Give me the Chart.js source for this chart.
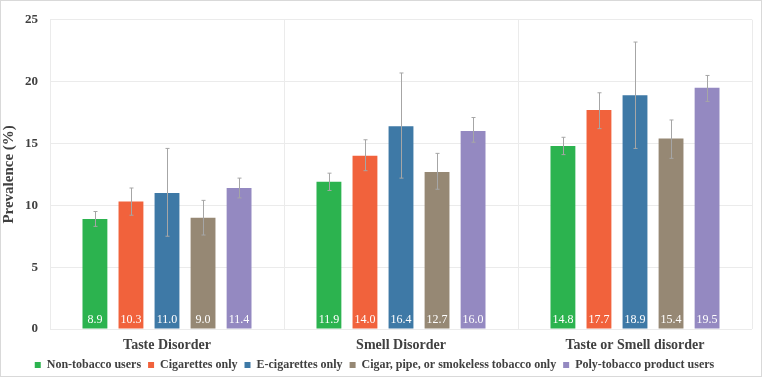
<!DOCTYPE html>
<html>
<head>
<meta charset="utf-8">
<script src="https://cdn.jsdelivr.net/npm/chart.js@4"></script>
<style>
  html, body { margin: 0; padding: 0; background: #fff; }
  #wrap { width: 762px; height: 377px; }
</style>
</head>
<body>
<div id="wrap"><canvas id="chart" width="762" height="377"></canvas></div>
<script>
// categories and groups
const categories = ["Taste Disorder", "Smell Disorder", "Taste or Smell disorder"];
const groups = ["Non-tobacco users", "Cigarettes only", "E-cigarettes only", "Cigar, pipe, or smokeless tobacco only", "Poly-tobacco product users"];
const colors = ["#2cb34f", "#f1623c", "#3e79a6", "#968874", "#9489c1"];

// prevalence values (%) per group
const nonTobacco = [8.9, 11.9, 14.8];
const cigarettes = [10.3, 14.0, 17.7];
const eCigs = [11.0, 16.4, 18.9];
const cigarPipe = [9.0, 12.7, 15.4];
const polyTobacco = [11.4, 16.0, 19.5];

// confidence intervals
const nonTobaccoLow = [8.3, 11.2, 14.1];
const nonTobaccoHigh = [9.5, 12.6, 15.5];
const cigarettesLow = [9.2, 12.8, 16.2];
const cigarettesHigh = [11.4, 15.3, 19.1];
const eCigsLow = [7.5, 12.2, 14.6];
const eCigsHigh = [14.6, 20.7, 23.2];
const cigarPipeLow = [7.6, 11.3, 13.8];
const cigarPipeHigh = [10.4, 14.2, 16.9];
const polyLow = [10.6, 15.1, 18.4];
const polyHigh = [12.2, 17.1, 20.5];

const yTicks = [0, 5, 10, 15, 20, 25];

const values = [nonTobacco, cigarettes, eCigs, cigarPipe, polyTobacco];
const lows = [nonTobaccoLow, cigarettesLow, eCigsLow, cigarPipeLow, polyLow];
const highs = [nonTobaccoHigh, cigarettesHigh, eCigsHigh, cigarPipeHigh, polyHigh];

const serif = "'Liberation Serif', 'DejaVu Serif', serif";
const textColor = "#404040";

// error bars, drawn with the y scale
const errorBars = {
  id: "errorBars",
  afterDatasetsDraw(chart) {
    const ctx = chart.ctx;
    const y = chart.scales.y;
    ctx.save();
    ctx.strokeStyle = "#a6a6a6";
    ctx.lineWidth = 1;
    chart.data.datasets.forEach((ds, i) => {
      const meta = chart.getDatasetMeta(i);
      meta.data.forEach((bar, j) => {
        const x = Math.round(bar.x) + 0.5;
        const top = y.getPixelForValue(highs[i][j]);
        const bot = y.getPixelForValue(lows[i][j]);
        ctx.beginPath();
        ctx.moveTo(x, top);
        ctx.lineTo(x, bot);
        ctx.moveTo(x - 2, top);
        ctx.lineTo(x + 2, top);
        ctx.moveTo(x - 2, bot);
        ctx.lineTo(x + 2, bot);
        ctx.stroke();
      });
    });
    ctx.restore();
  }
};

// value labels at the foot of each bar
const barLabels = {
  id: "barLabels",
  afterDatasetsDraw(chart) {
    const ctx = chart.ctx;
    const y0 = chart.scales.y.getPixelForValue(0);
    ctx.save();
    ctx.fillStyle = "#ffffff";
    ctx.font = "12px " + serif;
    ctx.textAlign = "center";
    ctx.textBaseline = "middle";
    chart.data.datasets.forEach((ds, i) => {
      chart.getDatasetMeta(i).data.forEach((bar, j) => {
        ctx.fillText(ds.data[j].toFixed(1), bar.x, y0 - 9);
      });
    });
    ctx.restore();
  }
};

// thin frame around the whole figure
const frame = {
  id: "frame",
  afterDraw(chart) {
    const ctx = chart.ctx;
    ctx.save();
    ctx.strokeStyle = "#d9d9d9";
    ctx.lineWidth = 1;
    ctx.strokeRect(0.5, 0.5, chart.width - 1, chart.height - 1);
    ctx.restore();
  }
};

const ctx = document.getElementById("chart").getContext("2d");
new Chart(ctx, {
  type: "bar",
  data: {
    labels: categories,
    datasets: groups.map((g, i) => ({
      label: g,
      data: values[i],
      backgroundColor: colors[i],
      borderWidth: 0,
      categoryPercentage: 0.77,
      barPercentage: 0.69,
    })),
  },
  options: {
    responsive: false,
    animation: false,
    layout: { padding: { top: 11, right: 10, left: 0, bottom: -4 } },
    plugins: {
      legend: {
        position: "bottom",
        labels: {
          color: textColor,
          font: { family: serif, size: 12, weight: "bold" },
          boxWidth: 6,
          boxHeight: 6,
          padding: 4,
          // a bit of trailing room so the items sit apart like the original
          generateLabels: (chart) => Chart.defaults.plugins.legend.labels.generateLabels(chart)
            .map(l => ({ ...l, text: l.text + " " })),
        },
      },
      tooltip: { enabled: false },
    },
    scales: {
      x: {
        grid: { color: "#ebebeb", offset: true, drawTicks: false },
        border: { display: false },
        ticks: {
          color: textColor,
          font: { family: serif, size: 14, weight: "bold" },
          padding: 8,
          maxRotation: 0,
        },
        afterFit: (scale) => { scale.height = 26; },
      },
      y: {
        min: 0,
        max: 25,
        afterBuildTicks: (scale) => { scale.ticks = yTicks.map(v => ({ value: v })); },
        grid: { color: "#ebebeb", drawTicks: false },
        border: { display: false },
        ticks: {
          color: textColor,
          font: { family: serif, size: 13, weight: "bold" },
          padding: 12,
        },
        title: {
          display: true,
          text: "Prevalence (%)",
          color: textColor,
          font: { family: serif, size: 15, weight: "bold" },
          padding: { top: 0, bottom: 0 },
        },
        afterFit: (scale) => { scale.width = 50; },
      },
    },
  },
  plugins: [errorBars, barLabels, frame],
});
</script>
</body>
</html>
